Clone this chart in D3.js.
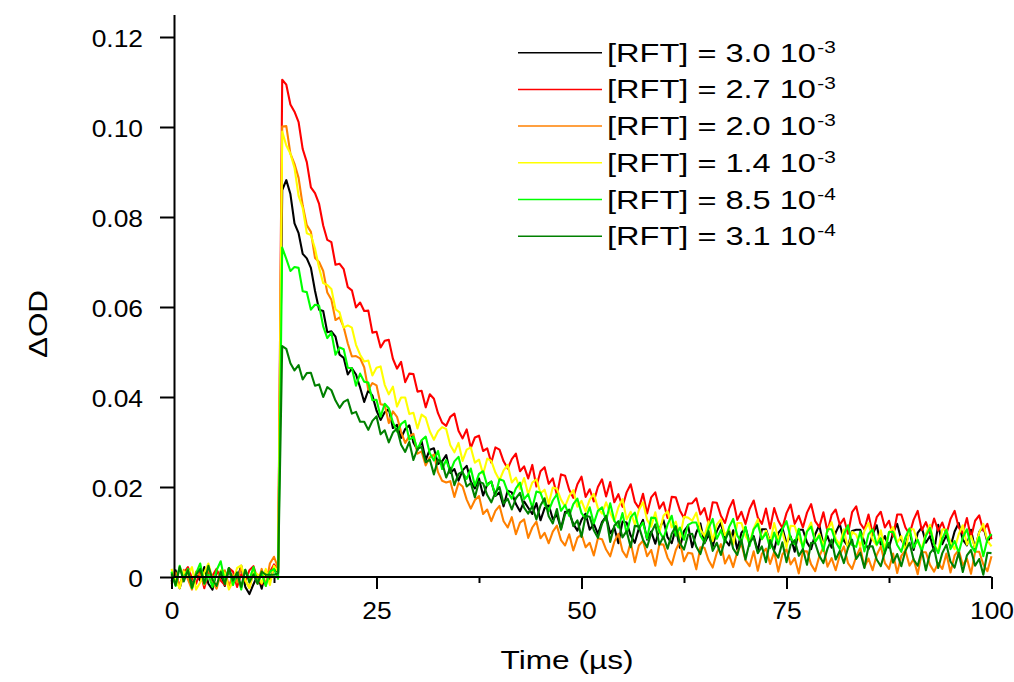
<!DOCTYPE html>
<html><head><meta charset="utf-8">
<script src="https://cdn.jsdelivr.net/npm/d3@7/dist/d3.min.js"></script>
<style>
body{margin:0;background:#fff}
text{font-family:"Liberation Sans",Arial,sans-serif;fill:#000}
</style>
</head><body>
<svg id="chart" width="1014" height="682"></svg>
<script>
// sampling step of all traces (µs), first sample at t = 0
const timeStep = 0.5;
// ΔOD values in units of 1e-4
const rft30e3 = [-10,15,-25,8,20,-18,5,-8,22,-15,-28,12,6,-20,18,-12,-5,25,-22,-38,-16,4,-26,14,-8,20,10,
860,882,851,786,764,718,708,687,636,594,591,544,546,534,494,487,450,464,450,421,
389,415,403,370,349,366,373,331,338,309,329,337,299,282,302,260,283,286,251,257,
271,231,240,214,237,247,212,197,219,181,206,212,180,188,157,192,188,162,146,168,
154,140,164,126,153,160,129,138,108,145,142,118,103,127,141,105,118,96,122,135,
97,110,75,123,121,92,76,108,127,83,101,74,107,126,88,75,108,65,102,114,
66,99,119,75,94,68,102,120,83,70,104,61,98,110,76,91,57,106,106,78,
60,98,109,75,90,56,105,105,77,62,95,115,72,91,65,99,118,81,68,102,
105,105,77,62,95,115,72,91,65,99,118,82,69,103,60,98,110,76,91,57,
116,73,93,67,101,120,83,70,105,62,100,112,78,93];
const rft27e3 = [5,-12,-20,8,22,-3,-15,14,-25,10,3,18,-8,-18,20,12,-22,6,-10,15,24,-5,-16,9,11,28,15,
1105,1094,1050,1034,1011,951,922,866,853,829,781,749,744,694,696,684,644,637,599,610,
591,592,543,545,510,525,527,485,463,478,433,452,451,412,414,377,406,396,364,343,
336,356,363,325,308,328,287,310,314,280,286,254,288,283,257,241,262,274,235,246,
219,249,201,235,244,207,219,182,228,225,194,176,206,223,178,195,168,200,217,179,
211,166,184,156,188,206,167,153,185,141,177,188,152,166,131,178,177,148,131,163,
164,175,139,153,118,166,165,136,120,152,171,127,145,118,151,170,132,118,152,108,
153,125,109,142,161,118,136,110,143,162,124,111,144,101,138,150,116,130,96,144,
157,119,106,139,96,133,145,110,125,90,139,139,110,95,127,147,104,122,96,130,
103,121,95,129,147,110,97,131,87,125,137,103,118,84];
const rft20e3 = [-15,10,-22,16,-5,-28,12,4,-18,20,-10,-26,8,15,-20,5,-12,22,-8,-24,10,-15,18,-20,30,45,20,
1001,1002,941,918,887,826,782,767,709,700,680,632,616,571,577,555,519,490,491,486,
466,416,431,426,384,382,342,368,356,322,298,313,318,274,279,248,266,272,233,214,
210,213,178,209,201,172,152,171,180,140,150,124,147,158,124,110,133,95,121,128,
87,110,123,86,98,75,101,114,82,70,95,59,87,95,66,76,48,86,84,61,
46,78,96,58,44,77,33,70,81,46,60,25,73,72,43,27,60,79,35,54,
52,17,66,65,37,21,54,73,30,48,22,56,74,37,24,57,14,52,63,29,
56,12,50,62,28,42,8,57,57,28,13,46,66,23,42,15,49,68,31,18,
45,65,22,41,15,49,68,31,18,52,9,47,59,25,40,6,55,55,27,12,
31,18,52,10,48,60,26,41,7,56,56,28,13,46];
const rft14e3 = [18,-8,-25,12,5,22,-28,-12,10,30,-5,-20,15,8,-28,-10,20,26,-6,-25,12,6,-14,18,-18,25,12,
990,959,941,909,847,820,764,760,730,687,653,649,640,595,588,554,559,554,516,494,
479,481,448,465,468,427,406,423,379,399,399,362,365,330,361,354,324,305,324,333,
329,293,277,298,258,283,288,254,261,229,263,258,232,215,237,249,210,221,196,220,
184,210,217,186,194,163,199,196,172,157,180,193,156,169,146,172,185,153,141,166,
142,124,155,173,128,145,117,149,166,127,112,144,99,136,146,110,123,87,134,132,
125,143,105,91,124,80,117,128,93,107,72,120,120,91,76,108,128,84,103,76,
120,85,100,65,114,113,85,69,102,121,78,96,70,104,122,85,72,106,62,100,
94,68,102,120,83,70,104,61,99,111,76,91,57,106,106,78,63,96,116,73,
57,106,105,77,62,95,115,72,91,65,99,118,81,68];
const rft85e4 = [12,-20,25,-6,18,-25,8,30,-15,5,-22,15,35,-10,20,-18,10,-28,16,-5,22,-14,8,-20,12,18,-4,
732,707,680,689,687,635,633,594,605,603,557,531,543,494,510,506,465,464,425,452,
434,432,393,394,356,385,375,344,323,340,347,305,312,283,304,312,275,259,280,240,
260,234,257,267,232,218,241,203,229,235,203,212,181,217,214,189,174,197,210,173,
184,154,190,187,162,147,170,184,147,160,136,162,174,142,130,155,119,147,155,125,
164,125,110,142,97,133,143,107,121,85,132,131,101,85,117,136,92,110,83,116,
121,121,92,77,109,129,85,104,77,111,129,92,78,112,69,106,118,84,98,64,
99,72,106,124,87,73,107,63,101,112,78,92,58,106,106,78,62,95,115,71,
67,101,57,95,106,72,86,52,100,100,71,56,88,108,65,83,57,91,109,72,
53,85,105,62,80,54,88,106,69,56,89,46,84,96];
const rft31e4 = [8,-18,22,-10,15,-24,5,18,-14,25,-6,-20,12,-16,20,-8,10,-22,16,-12,6,-15,12,5,5,5,8,
513,507,475,459,471,439,453,454,425,428,400,422,415,392,376,389,394,363,367,345,
345,327,347,357,317,326,299,321,330,294,278,300,260,285,289,255,261,228,261,255,
221,243,204,229,234,201,209,177,212,208,182,166,188,200,163,174,150,175,187,154,
141,157,128,159,175,135,119,151,105,140,150,113,126,89,136,134,104,87,118,136,
78,114,124,88,102,66,114,112,83,66,98,117,72,90,63,96,113,75,61,94,
96,67,51,83,102,58,76,49,83,101,63,49,83,39,77,88,53,68,33,82,
57,43,77,33,71,82,47,62,27,76,75,47,31,63,83,39,58,31,65,83,
40,54,20,68,68,39,24,56,76,32,51,24,58,76,39,25,59,15,53,64,
20,53,72,34,21,54,11,48,60,25,40,5,54,53];

const seriesLabels = ["[RFT] = 3.0 10","[RFT] = 2.7 10","[RFT] = 2.0 10","[RFT] = 1.4 10","[RFT] = 8.5 10","[RFT] = 3.1 10"];
const seriesExponents = ["-3","-3","-3","-3","-4","-4"];
const seriesData = [rft30e3, rft27e3, rft20e3, rft14e3, rft85e4, rft31e4];
const seriesColors = ["#000000","#ff0000","#ff8000","#ffff00","#00ff00","#008000"];

const xMajorTicks = [0,25,50,75,100];
const xMinorTicks = [12.5,37.5,62.5,87.5];
const yTicks = [0,0.02,0.04,0.06,0.08,0.10,0.12];
const yTickLabels = ["0","0.02","0.04","0.06","0.08","0.10","0.12"];
const xTitle = "Time (µs)";
const yTitle = "ΔOD";

const svg = d3.select("#chart");
const x = d3.scaleLinear().domain([0,100]).range([171.5,991.5]);
const y = d3.scaleLinear().domain([0,0.125]).range([577,14.5]);
const yAxisX = 174;

function stretch(sel, factor){
  sel.each(function(){
    const t = d3.select(this);
    const prev = t.attr("transform") || "";
    t.attr("transform", prev + ` scale(${factor},1)`);
  });
}

// traces
const line = d3.line().x((d,i)=>x(i*timeStep)).y(d=>y(d*1e-4));
const traces = svg.append("g");
seriesData.forEach((s,k)=>{
  traces.append("path").attr("d", line(s)).attr("fill","none")
    .attr("stroke", seriesColors[k]).attr("stroke-width",2.1).attr("stroke-linejoin","round");
});

// x axis
const gx = svg.append("g").attr("transform","translate(0,577)");
gx.call(d3.axisBottom(x).tickValues(xMajorTicks).tickFormat(d3.format("d")).tickSize(12).tickSizeOuter(0).tickPadding(13));
gx.select(".domain").attr("d", `M${yAxisX},0H${x(100)}`);
const gxm = svg.append("g").attr("transform","translate(0,577)");
gxm.call(d3.axisBottom(x).tickValues(xMinorTicks).tickFormat("").tickSize(6).tickSizeOuter(0));
gxm.select(".domain").remove();

// y axis
const gy = svg.append("g").attr("transform",`translate(${yAxisX},0)`);
gy.call(d3.axisLeft(y).tickValues(yTicks).tickFormat((d,i)=>yTickLabels[i]).tickSize(14).tickSizeOuter(0).tickPadding(17));

[gx,gxm,gy].forEach(g=>{
  g.selectAll("path,line").attr("stroke","#000").attr("stroke-width",2);
  g.selectAll("text").attr("font-size",24).attr("font-family","'Liberation Sans',Arial,sans-serif").attr("fill","#000");
});
gx.selectAll(".tick text").attr("transform","scale(1.1,1)");
gy.selectAll(".tick text").each(function(){
  const t = d3.select(this);
  t.attr("x", -31/1.1).attr("transform","scale(1.1,1)").attr("dy","0.38em");
});

// axis titles
const xt = svg.append("text").attr("font-size",26).attr("text-anchor","middle")
  .attr("transform","translate(567,669)").text(xTitle);
stretch(xt, 133/xt.node().getComputedTextLength());
const yt = svg.append("text").attr("font-size",26).attr("text-anchor","middle")
  .attr("transform","translate(47,324) rotate(-90)").text(yTitle);
stretch(yt, 68/yt.node().getComputedTextLength());

// legend
const legendTop = 52.7, legendStep = 36.7;
const lg = svg.append("g");
seriesLabels.forEach((lab,i)=>{
  const yy = legendTop + i*legendStep;
  lg.append("line").attr("x1",518).attr("x2",602).attr("y1",yy).attr("y2",yy)
    .attr("stroke",seriesColors[i]).attr("stroke-width",1.5);
  const t = lg.append("text").attr("font-size",25).attr("transform",`translate(607,${yy+9})`);
  t.append("tspan").text(lab);
  t.append("tspan").attr("font-size",16).attr("dx",1).attr("dy",-9).text(seriesExponents[i]);
  const w = t.node().getBBox().width;
  stretch(t, 229/w);
});
</script>
</body></html>
